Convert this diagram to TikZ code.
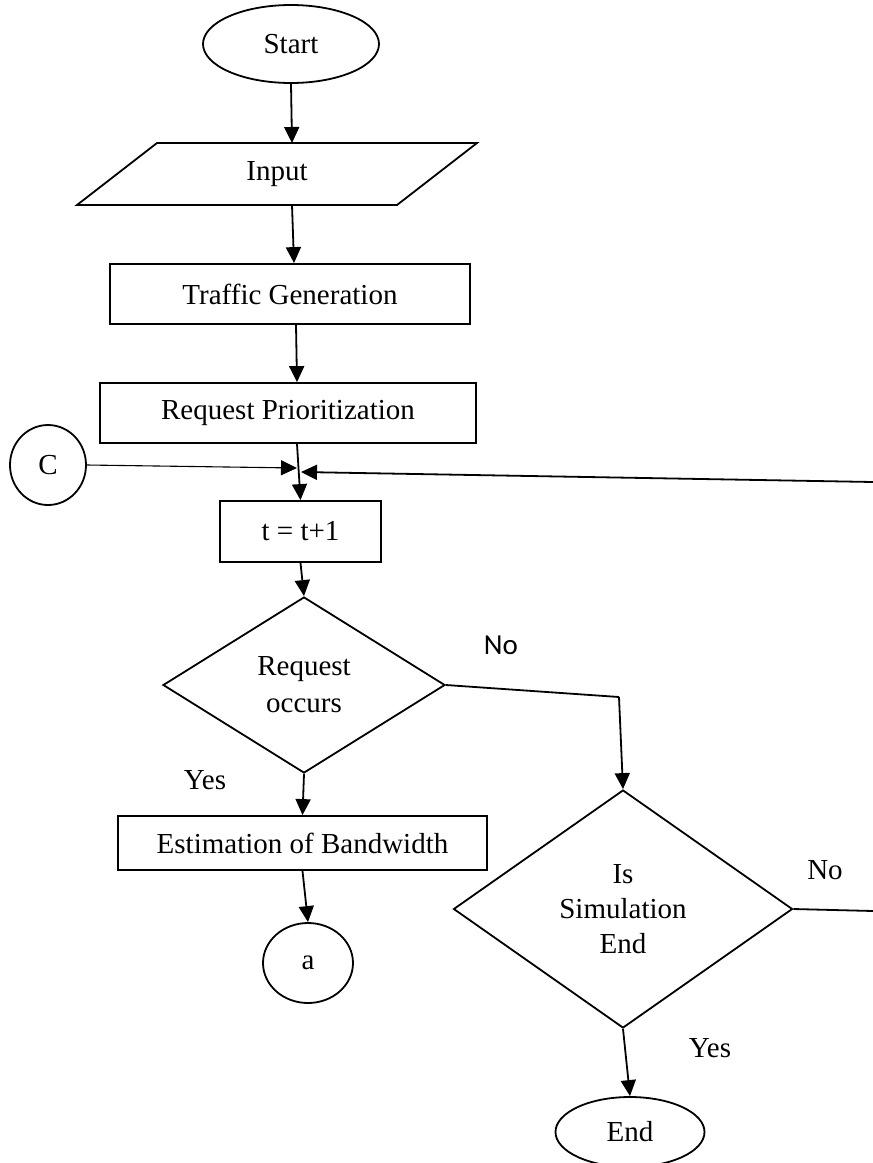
\documentclass[tikz,border=0pt]{standalone}
\usepackage{fontspec}
\setmainfont{Liberation Serif}
\newfontfamily\calfont{Carlito}
\usetikzlibrary{shapes.geometric,arrows.meta}
\begin{document}
\begin{tikzpicture}[x=1pt,y=-1pt,
  font=\fontsize{29}{37}\selectfont,
  line width=1.8pt,
  box/.style={draw, rectangle, inner sep=0pt},
  oval/.style={draw, ellipse, inner sep=0pt},
  dia/.style={draw, diamond, inner sep=0pt, align=center},
  arr/.style={-{Triangle[length=16pt,width=15pt]}},
  lbl/.style={inner sep=0pt},
  sanslbl/.style={inner sep=0pt, font=\calfont\fontsize{29}{34}\selectfont}]
\path[use as bounding box] (0,0) rectangle (873,1163);

% Start
\node[oval, minimum width=176pt, minimum height=78pt] (start) at (291,44) {Start};

% Input parallelogram
\coordinate (inTL) at (157,143);
\coordinate (inTR) at (477,143);
\coordinate (inBR) at (397,205);
\coordinate (inBL) at (77,205);
\draw (inTL) -- (inTR) -- (inBR) -- (inBL) -- cycle;
\node[lbl] (input) at (277,174) {Input};
\coordinate (inN) at (292,143);
\coordinate (inS) at (292,205);
\draw[arr] (start.south) -- (inN);

% Traffic Generation
\node[box, minimum width=360pt, minimum height=60pt] (traffic) at (290,294) {Traffic Generation};
\draw[arr] (inS) -- ([xshift=4pt]traffic.north);

% Request Prioritization
\node[box, minimum width=376pt, minimum height=60pt] (request) at (288,413) {Request Prioritization};
\draw[arr] ([xshift=6pt]traffic.south) -- ([xshift=9pt]request.north);

% t = t+1
\node[box, minimum width=161pt, minimum height=61pt] (tbox) at (300.5,531.5) {t = t+1};
\draw[arr] ([xshift=9pt]request.south) -- (tbox.north);

% C connector
\node[oval, minimum width=76pt, minimum height=80pt] (C) at (48,465) {C};
\coordinate (cin) at (297,468);
\draw[arr, line width=1.1pt] (C.east) -- (cin);
\coordinate (redge) at (873,482);
\coordinate (rin) at (301,472);
\draw[arr] (redge) -- (rin);

% Decision 1
\node[dia, minimum width=282pt, minimum height=176pt] (d1) at (304,685) {Request\\occurs};
\draw[arr] (tbox.south) -- (d1.north);

% Decision 2
\node[dia, minimum width=339pt, minimum height=238pt, font=\fontsize{29}{35}\selectfont] (d2) at (623,909) {Is\\Simulation\\End};
\coordinate (k1) at (619,697);
\draw (d1.east) -- (k1);
\draw[arr] (k1) -- (d2.north);
\node[sanslbl] (no1) at (501,645) {No};

% Estimation of Bandwidth
\node[box, minimum width=369pt, minimum height=54pt] (est) at (302.5,843) {Estimation of Bandwidth};
\draw[arr] (d1.south) -- (est.north);
\node[lbl] (yes1) at (205,780) {Yes};

% a connector
\node[oval, minimum width=90pt, minimum height=80pt] (a) at (308,963) {a};
\draw[arr] (est.south) -- (a.north);

% No branch of decision 2
\coordinate (nedge) at (873,911);
\draw (d2.east) -- (nedge);
\node[lbl] (no2) at (825,870) {No};

% End
\node[oval, minimum width=149pt, minimum height=70pt] (endn) at (630,1132) {End};
\draw[arr] (d2.south) -- (endn.north);
\node[lbl] (yes2) at (710,1048) {Yes};
\end{tikzpicture}
\end{document}
